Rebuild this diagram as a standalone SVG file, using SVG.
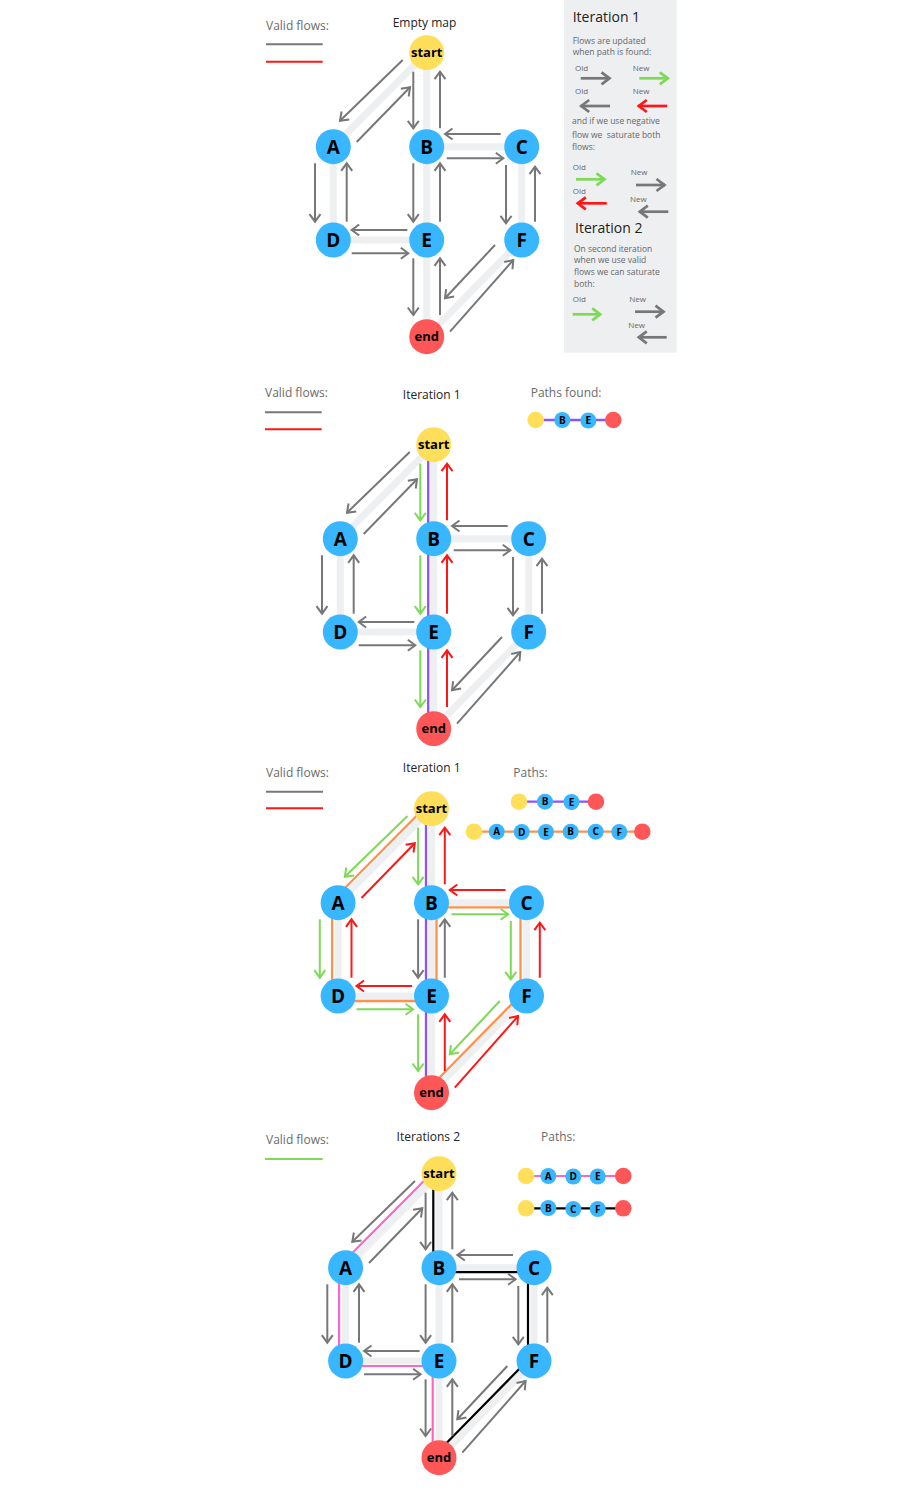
<svg xmlns="http://www.w3.org/2000/svg" width="900" height="1500" viewBox="0 0 900 1500">
<defs>
<style>
.track{stroke:#eeeff1;stroke-width:7;fill:none}
.a{fill:none;stroke-width:2}
.g{stroke:#777;marker-end:url(#mg)}
.gr{stroke:#7ed957;marker-end:url(#mgr)}
.r{stroke:#ff1616;marker-end:url(#mr)}
.A{fill:none;stroke-width:2.7}
.G{stroke:#777;marker-end:url(#Mg)}
.GR{stroke:#7ed957;marker-end:url(#Mgr)}
.R{stroke:#ff1616;marker-end:url(#Mr)}
.pp{fill:none;stroke:#8c52ff;stroke-width:2.3}
.po{fill:none;stroke:#ff914d;stroke-width:2.3}
.pk{fill:none;stroke:#ff66c4;stroke-width:2.2}
.pb{fill:none;stroke:#000;stroke-width:2.2}
.blue{fill:#38b6ff}
.yel{fill:#ffde59}
.red{fill:#ff5757}
.nl{font-family:'Open Sans','Liberation Sans',sans-serif;font-weight:bold;font-size:19px;fill:#000;text-anchor:middle}
.ns{font-family:'Open Sans','Liberation Sans',sans-serif;font-weight:bold;font-size:13px;fill:#000;text-anchor:middle}
.ml{font-family:'Open Sans','Liberation Sans',sans-serif;font-weight:bold;font-size:10px;fill:#000;text-anchor:middle}
.lab{font-family:'Open Sans','Liberation Sans',sans-serif;font-size:12px;fill:#6b6b6b}
.ttl{font-family:'Open Sans','Liberation Sans',sans-serif;font-size:12px;fill:#222;text-anchor:middle}
.lt{font-family:'Open Sans','Liberation Sans',sans-serif;font-size:14px;fill:#222}
.ld{font-family:'Open Sans','Liberation Sans',sans-serif;font-size:8.5px;fill:#666}
.on{font-family:'Open Sans','Liberation Sans',sans-serif;font-size:8px;fill:#666}
</style>
<marker id="mg" markerUnits="userSpaceOnUse" markerWidth="14" markerHeight="16" refX="11" refY="8" orient="auto"><path d="M3.5,2.5 L11,8 L3.5,13.5" fill="none" stroke="#777" stroke-width="2"/></marker>
<marker id="mgr" markerUnits="userSpaceOnUse" markerWidth="14" markerHeight="16" refX="11" refY="8" orient="auto"><path d="M3.5,2.5 L11,8 L3.5,13.5" fill="none" stroke="#7ed957" stroke-width="2"/></marker>
<marker id="mr" markerUnits="userSpaceOnUse" markerWidth="14" markerHeight="16" refX="11" refY="8" orient="auto"><path d="M3.5,2.5 L11,8 L3.5,13.5" fill="none" stroke="#ff1616" stroke-width="2"/></marker>
<marker id="Mg" markerUnits="userSpaceOnUse" markerWidth="14" markerHeight="16" refX="11.5" refY="8" orient="auto"><path d="M3,2 L11,8 L3,14" fill="none" stroke="#777" stroke-width="2.7"/></marker>
<marker id="Mgr" markerUnits="userSpaceOnUse" markerWidth="14" markerHeight="16" refX="11.5" refY="8" orient="auto"><path d="M3,2 L11,8 L3,14" fill="none" stroke="#7ed957" stroke-width="2.7"/></marker>
<marker id="Mr" markerUnits="userSpaceOnUse" markerWidth="14" markerHeight="16" refX="11.5" refY="8" orient="auto"><path d="M3,2 L11,8 L3,14" fill="none" stroke="#ff1616" stroke-width="2.7"/></marker>
</defs>
<rect width="900" height="1500" fill="#fff"/>

<!-- Legend box -->
<g id="legend">
<rect x="564" y="0" width="112.7" height="352.7" fill="#eeeff1"/>
<text class="lt" x="572.7" y="21.7">Iteration 1</text>
<text class="ld" x="572.7" y="44">Flows are updated</text>
<text class="ld" x="572.7" y="55">when path is found:</text>
<text class="on" x="575" y="70.7">Old</text>
<text class="on" x="632.7" y="70.7">New</text>
<path class="A G" d="M580.7,78.3 H610"/>
<path class="A GR" d="M639.3,78.3 H668.3"/>
<text class="on" x="575" y="94.3">Old</text>
<text class="on" x="632.7" y="94.3">New</text>
<path class="A G" d="M610,106 H580.7"/>
<path class="A R" d="M667.3,106 H638.3"/>
<text class="ld" x="572" y="124.3">and if we use negative</text>
<text class="ld" x="572" y="137.7" xml:space="preserve">flow we  saturate both</text>
<text class="ld" x="572" y="150">flows:</text>
<text class="on" x="572.7" y="170">Old</text>
<path class="A GR" d="M576,179.3 H605"/>
<text class="on" x="630.7" y="175">New</text>
<path class="A G" d="M636,185 H665"/>
<text class="on" x="572.7" y="194.3">Old</text>
<path class="A R" d="M606.7,203.3 H577.3"/>
<text class="on" x="630" y="202.3">New</text>
<path class="A G" d="M668.3,211.7 H639.3"/>
<text class="lt" x="575" y="233.3">Iteration 2</text>
<text class="ld" x="574" y="251.7">On second iteration</text>
<text class="ld" x="574" y="263.3">when we use valid</text>
<text class="ld" x="574" y="275">flows we can saturate</text>
<text class="ld" x="574" y="287.3">both:</text>
<text class="on" x="572.7" y="301.7">Old</text>
<path class="A GR" d="M572.7,314.3 H600.7"/>
<text class="on" x="629.3" y="301.7">New</text>
<path class="A G" d="M635,311.7 H664"/>
<text class="on" x="628.3" y="327.7">New</text>
<path class="A G" d="M666.7,337.3 H638.3"/>
</g>

<!-- Panel 1 -->
<g id="panel1">
<text class="lab" x="266" y="29.5">Valid flows:</text>
<path d="M266,44.3 H322.7" stroke="#777" stroke-width="2"/>
<path d="M266,61.7 H322.7" stroke="#ff1616" stroke-width="2"/>
<text class="ttl" x="424.5" y="27">Empty map</text>
<g id="p1-connectors">
<path class="track" d="M426.7,52.7 L333.3,146.7 M426.7,52.7 V336.7 M333.3,146.7 V240 H426.7 M426.7,146.7 H521.7 V240 L426.7,336.7"/>
<path class="a g" d="M402.7,60 L340,120.7"/>
<path class="a g" d="M356.7,142 L410,87.3"/>
<path class="a g" d="M413.3,71.7 V128.3"/>
<path class="a g" d="M440,128.3 V71.7"/>
<path class="a g" d="M500.7,134 H445"/>
<path class="a g" d="M446.7,158.3 H503.3"/>
<path class="a g" d="M315,163.3 V221.7"/>
<path class="a g" d="M346.7,221.7 V163.3"/>
<path class="a g" d="M413.3,163.3 V221.7"/>
<path class="a g" d="M440,221.7 V163.3"/>
<path class="a g" d="M506,165 V223.3"/>
<path class="a g" d="M535,221.7 V166.7"/>
<path class="a g" d="M407.3,230 H351.7"/>
<path class="a g" d="M351.7,253.3 H408.3"/>
<path class="a g" d="M413.3,258.3 V315"/>
<path class="a g" d="M440,315 V258.3"/>
<path class="a g" d="M495,245 L445,298.3"/>
<path class="a g" d="M450,331.7 L513.3,260"/>
</g>
<g id="p1-start"><circle class="yel" cx="426.7" cy="52.7" r="17.5"/><text class="ns" x="426.7" y="57.3">start</text></g>
<g id="p1-A"><circle class="blue" cx="333.3" cy="146.7" r="17.5"/><text class="nl" x="333.3" y="153.5">A</text></g>
<g id="p1-B"><circle class="blue" cx="426.7" cy="146.7" r="17.5"/><text class="nl" x="426.7" y="153.5">B</text></g>
<g id="p1-C"><circle class="blue" cx="521.7" cy="146.7" r="17.5"/><text class="nl" x="521.7" y="153.5">C</text></g>
<g id="p1-D"><circle class="blue" cx="333.3" cy="240" r="17.5"/><text class="nl" x="333.3" y="246.8">D</text></g>
<g id="p1-E"><circle class="blue" cx="426.7" cy="240" r="17.5"/><text class="nl" x="426.7" y="246.8">E</text></g>
<g id="p1-F"><circle class="blue" cx="521.7" cy="240" r="17.5"/><text class="nl" x="521.7" y="246.8">F</text></g>
<g id="p1-end"><circle class="red" cx="426.7" cy="336.7" r="17.5"/><text class="ns" x="426.7" y="341.2">end</text></g>
</g>

<!-- Panel 2 -->
<g id="panel2">
<text class="lab" x="265" y="397">Valid flows:</text>
<path d="M265,412.3 H321.7" stroke="#777" stroke-width="2"/>
<path d="M265,429.3 H321.7" stroke="#ff1616" stroke-width="2"/>
<text class="ttl" x="431.7" y="398.5">Iteration 1</text>
<text class="lab" x="530.7" y="397">Paths found:</text>
<g id="p2-path1">
<path class="pp" d="M535.7,420 H613.3"/>
<circle class="yel" cx="535.7" cy="420" r="8.3"/>
<circle class="blue" cx="562.3" cy="420" r="8"/><text class="ml" x="562.3" y="423.6">B</text>
<circle class="blue" cx="588.3" cy="420.5" r="8"/><text class="ml" x="588.3" y="424.1">E</text>
<circle class="red" cx="613.3" cy="420" r="8.3"/>
</g>
<g transform="translate(7,392)">
<g id="p2-connectors">
<path class="track" d="M426.7,52.7 L333.3,146.7 M426.7,52.7 V336.7 M333.3,146.7 V240 H426.7 M426.7,146.7 H521.7 V240 L426.7,336.7"/>
<path class="pp" d="M421.2,52.7 V336.7"/>
<path class="a g" d="M402.7,60 L340,120.7"/>
<path class="a g" d="M356.7,142 L410,87.3"/>
<path class="a gr" d="M413.3,71.7 V128.3"/>
<path class="a r" d="M440,128.3 V71.7"/>
<path class="a g" d="M500.7,134 H445"/>
<path class="a g" d="M446.7,158.3 H503.3"/>
<path class="a g" d="M315,163.3 V221.7"/>
<path class="a g" d="M346.7,221.7 V163.3"/>
<path class="a gr" d="M413.3,163.3 V221.7"/>
<path class="a r" d="M440,221.7 V163.3"/>
<path class="a g" d="M506,165 V223.3"/>
<path class="a g" d="M535,221.7 V166.7"/>
<path class="a g" d="M407.3,230 H351.7"/>
<path class="a g" d="M351.7,253.3 H408.3"/>
<path class="a gr" d="M413.3,258.3 V315"/>
<path class="a r" d="M440,315 V258.3"/>
<path class="a g" d="M495,245 L445,298.3"/>
<path class="a g" d="M450,331.7 L513.3,260"/>
</g>
<g id="p2-start"><circle class="yel" cx="426.7" cy="52.7" r="17.5"/><text class="ns" x="426.7" y="57.3">start</text></g>
<g id="p2-A"><circle class="blue" cx="333.3" cy="146.7" r="17.5"/><text class="nl" x="333.3" y="153.5">A</text></g>
<g id="p2-B"><circle class="blue" cx="426.7" cy="146.7" r="17.5"/><text class="nl" x="426.7" y="153.5">B</text></g>
<g id="p2-C"><circle class="blue" cx="521.7" cy="146.7" r="17.5"/><text class="nl" x="521.7" y="153.5">C</text></g>
<g id="p2-D"><circle class="blue" cx="333.3" cy="240" r="17.5"/><text class="nl" x="333.3" y="246.8">D</text></g>
<g id="p2-E"><circle class="blue" cx="426.7" cy="240" r="17.5"/><text class="nl" x="426.7" y="246.8">E</text></g>
<g id="p2-F"><circle class="blue" cx="521.7" cy="240" r="17.5"/><text class="nl" x="521.7" y="246.8">F</text></g>
<g id="p2-end"><circle class="red" cx="426.7" cy="336.7" r="17.5"/><text class="ns" x="426.7" y="341.2">end</text></g>
</g>
</g>

<!-- Panel 3 -->
<g id="panel3">
<text class="lab" x="266" y="776.5">Valid flows:</text>
<path d="M266,791.7 H323" stroke="#777" stroke-width="2"/>
<path d="M266,808.3 H323" stroke="#ff1616" stroke-width="2"/>
<text class="ttl" x="431.7" y="772">Iteration 1</text>
<text class="lab" x="513.3" y="776.5">Paths:</text>
<g id="p3-path1">
<path class="pp" d="M519,801.7 H596"/>
<circle class="yel" cx="519" cy="801.7" r="8.3"/>
<circle class="blue" cx="545" cy="801.7" r="8"/><text class="ml" x="545" y="805.3">B</text>
<circle class="blue" cx="571.5" cy="802" r="8"/><text class="ml" x="571.5" y="805.6">E</text>
<circle class="red" cx="596" cy="801.7" r="8.3"/>
</g>
<g id="p3-path2">
<path class="po" d="M474,831.7 H642.3"/>
<circle class="yel" cx="474" cy="831.7" r="8.3"/>
<circle class="blue" cx="496.7" cy="831.7" r="8"/><text class="ml" x="496.7" y="835.3">A</text>
<circle class="blue" cx="521.7" cy="832" r="8"/><text class="ml" x="521.7" y="835.6">D</text>
<circle class="blue" cx="546" cy="832" r="8"/><text class="ml" x="546" y="835.6">E</text>
<circle class="blue" cx="570.7" cy="831.7" r="8"/><text class="ml" x="570.7" y="835.3">B</text>
<circle class="blue" cx="595.7" cy="831.7" r="8"/><text class="ml" x="595.7" y="835.3">C</text>
<circle class="blue" cx="619.3" cy="832" r="8"/><text class="ml" x="619.3" y="835.6">F</text>
<circle class="red" cx="642.3" cy="831.7" r="8.3"/>
</g>
<g transform="translate(4.8,756)">
<g id="p3-connectors">
<path class="track" d="M426.7,52.7 L333.3,146.7 M426.7,52.7 V336.7 M333.3,146.7 V240 H426.7 M426.7,146.7 H521.7 V240 L426.7,336.7"/>
<path class="pp" d="M421.2,52.7 V336.7"/>
<path class="po" d="M422.8,48.8 L329.4,142.8 M327.3,146.7 V240 M333.3,245 H426.7 M431.7,240 V146.7 M426.7,151.4 H521.7 M515.7,146.7 V240 M518.2,236.5 L423.2,333.2"/>
<path class="a gr" d="M402.7,60 L340,120.7"/>
<path class="a r" d="M356.7,142 L410,87.3"/>
<path class="a gr" d="M413.3,71.7 V128.3"/>
<path class="a r" d="M440,128.3 V71.7"/>
<path class="a r" d="M500.7,134 H445"/>
<path class="a gr" d="M446.7,158.3 H503.3"/>
<path class="a gr" d="M315,163.3 V221.7"/>
<path class="a r" d="M346.7,221.7 V163.3"/>
<path class="a g" d="M413.3,163.3 V221.7"/>
<path class="a g" d="M440,221.7 V163.3"/>
<path class="a gr" d="M506,165 V223.3"/>
<path class="a r" d="M535,221.7 V166.7"/>
<path class="a r" d="M407.3,230 H351.7"/>
<path class="a gr" d="M351.7,253.3 H408.3"/>
<path class="a gr" d="M413.3,258.3 V315"/>
<path class="a r" d="M440,315 V258.3"/>
<path class="a gr" d="M495,245 L445,298.3"/>
<path class="a r" d="M450,331.7 L513.3,260"/>
</g>
<g id="p3-start"><circle class="yel" cx="426.7" cy="52.7" r="17.5"/><text class="ns" x="426.7" y="57.3">start</text></g>
<g id="p3-A"><circle class="blue" cx="333.3" cy="146.7" r="17.5"/><text class="nl" x="333.3" y="153.5">A</text></g>
<g id="p3-B"><circle class="blue" cx="426.7" cy="146.7" r="17.5"/><text class="nl" x="426.7" y="153.5">B</text></g>
<g id="p3-C"><circle class="blue" cx="521.7" cy="146.7" r="17.5"/><text class="nl" x="521.7" y="153.5">C</text></g>
<g id="p3-D"><circle class="blue" cx="333.3" cy="240" r="17.5"/><text class="nl" x="333.3" y="246.8">D</text></g>
<g id="p3-E"><circle class="blue" cx="426.7" cy="240" r="17.5"/><text class="nl" x="426.7" y="246.8">E</text></g>
<g id="p3-F"><circle class="blue" cx="521.7" cy="240" r="17.5"/><text class="nl" x="521.7" y="246.8">F</text></g>
<g id="p3-end"><circle class="red" cx="426.7" cy="336.7" r="17.5"/><text class="ns" x="426.7" y="341.2">end</text></g>
</g>
</g>

<!-- Panel 4 -->
<g id="panel4">
<text class="lab" x="266" y="1144">Valid flows:</text>
<path d="M265,1159 H322.7" stroke="#7ed957" stroke-width="2"/>
<text class="ttl" x="428.3" y="1140.5">Iterations 2</text>
<text class="lab" x="541" y="1140.5">Paths:</text>
<g id="p4-path1">
<path class="pk" d="M526,1176 H623.3"/>
<circle class="yel" cx="526" cy="1176" r="8.3"/>
<circle class="blue" cx="548.3" cy="1176" r="8"/><text class="ml" x="548.3" y="1179.6">A</text>
<circle class="blue" cx="573.3" cy="1176.5" r="8"/><text class="ml" x="573.3" y="1180.1">D</text>
<circle class="blue" cx="597.7" cy="1176.5" r="8"/><text class="ml" x="597.7" y="1180.1">E</text>
<circle class="red" cx="623.3" cy="1176" r="8.3"/>
</g>
<g id="p4-path2">
<path class="pb" d="M526,1208.3 H623.3"/>
<circle class="yel" cx="526" cy="1208.3" r="8.3"/>
<circle class="blue" cx="548.3" cy="1208" r="8"/><text class="ml" x="548.3" y="1211.6">B</text>
<circle class="blue" cx="573.3" cy="1209" r="8"/><text class="ml" x="573.3" y="1212.6">C</text>
<circle class="blue" cx="597.7" cy="1209" r="8"/><text class="ml" x="597.7" y="1212.6">F</text>
<circle class="red" cx="623.3" cy="1208.3" r="8.3"/>
</g>
<g transform="translate(12.3,1121)">
<g id="p4-connectors">
<path class="track" d="M426.7,52.7 L333.3,146.7 M426.7,52.7 V336.7 M333.3,146.7 V240 H426.7 M426.7,146.7 H521.7 V240 L426.7,336.7"/>
<path class="pk" d="M422.7,48.7 L329.3,142.7 M326.8,146.7 V240 M333.3,245 H426.7 M420.4,240 V336.7"/>
<path class="pb" d="M421,52.7 V146.7 M426.7,151.2 H521.7 M515.7,146.7 V240 M518.2,236.5 L423.2,333.2"/>
<path class="a g" d="M402.7,60 L340,120.7"/>
<path class="a g" d="M356.7,142 L410,87.3"/>
<path class="a g" d="M413.3,71.7 V128.3"/>
<path class="a g" d="M440,128.3 V71.7"/>
<path class="a g" d="M500.7,134 H445"/>
<path class="a g" d="M446.7,158.3 H503.3"/>
<path class="a g" d="M315,163.3 V221.7"/>
<path class="a g" d="M346.7,221.7 V163.3"/>
<path class="a g" d="M413.3,163.3 V221.7"/>
<path class="a g" d="M440,221.7 V163.3"/>
<path class="a g" d="M506,165 V223.3"/>
<path class="a g" d="M535,221.7 V166.7"/>
<path class="a g" d="M407.3,230 H351.7"/>
<path class="a g" d="M351.7,253.3 H408.3"/>
<path class="a g" d="M413.3,258.3 V315"/>
<path class="a g" d="M440,315 V258.3"/>
<path class="a g" d="M495,245 L445,298.3"/>
<path class="a g" d="M450,331.7 L513.3,260"/>
</g>
<g id="p4-start"><circle class="yel" cx="426.7" cy="52.7" r="17.5"/><text class="ns" x="426.7" y="57.3">start</text></g>
<g id="p4-A"><circle class="blue" cx="333.3" cy="146.7" r="17.5"/><text class="nl" x="333.3" y="153.5">A</text></g>
<g id="p4-B"><circle class="blue" cx="426.7" cy="146.7" r="17.5"/><text class="nl" x="426.7" y="153.5">B</text></g>
<g id="p4-C"><circle class="blue" cx="521.7" cy="146.7" r="17.5"/><text class="nl" x="521.7" y="153.5">C</text></g>
<g id="p4-D"><circle class="blue" cx="333.3" cy="240" r="17.5"/><text class="nl" x="333.3" y="246.8">D</text></g>
<g id="p4-E"><circle class="blue" cx="426.7" cy="240" r="17.5"/><text class="nl" x="426.7" y="246.8">E</text></g>
<g id="p4-F"><circle class="blue" cx="521.7" cy="240" r="17.5"/><text class="nl" x="521.7" y="246.8">F</text></g>
<g id="p4-end"><circle class="red" cx="426.7" cy="336.7" r="17.5"/><text class="ns" x="426.7" y="341.2">end</text></g>
</g>
</g>
</svg>
